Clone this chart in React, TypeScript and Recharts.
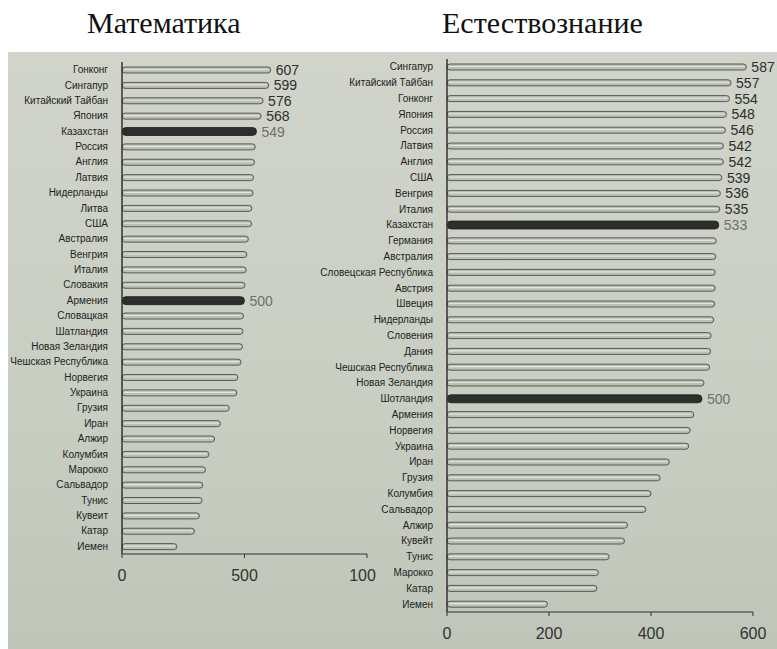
import React from "react";
import { BarChart, Bar, XAxis, YAxis, LabelList } from "recharts";

// Математика (TIMSS, 4 класс)
const mathCountries = [
  "Гонконг", "Сингапур", "Китайский Тайбан", "Япония", "Казахстан", "Россия",
  "Англия", "Латвия", "Нидерланды", "Литва", "США", "Австралия", "Венгрия",
  "Италия", "Словакия", "Армения", "Словацкая", "Шатландия", "Новая Зеландия",
  "Чешская Республика", "Норвегия", "Украина", "Грузия", "Иран", "Алжир",
  "Колумбия", "Марокко", "Сальвадор", "Тунис", "Кувеит", "Катар", "Иемен",
];
const mathScores = [
  607, 599, 576, 568, 549, 544, 541, 537, 535, 530, 529, 516, 510, 507, 502,
  500, 496, 494, 492, 486, 473, 469, 438, 402, 378, 355, 341, 330, 327, 316,
  296, 224,
];
const mathHighlight = ["Казахстан", "Армения"];
const mathLabeled = ["Гонконг", "Сингапур", "Китайский Тайбан", "Япония", "Казахстан", "Армения"];
const mathTicks = [0, 500, 1000];

// Естествознание
const sciCountries = [
  "Сингапур", "Китайский Тайбан", "Гонконг", "Япония", "Россия", "Латвия",
  "Англия", "США", "Венгрия", "Италия", "Казахстан", "Германия", "Австралия",
  "Словецская Республика", "Австрия", "Швеция", "Нидерланды", "Словения",
  "Дания", "Чешская Республика", "Новая Зеландия", "Шотландия", "Армения",
  "Норвегия", "Украина", "Иран", "Грузия", "Колумбия", "Сальвадор", "Алжир",
  "Кувейт", "Тунис", "Марокко", "Катар", "Иемен",
];
const sciScores = [
  587, 557, 554, 548, 546, 542, 542, 539, 536, 535, 533, 528, 527, 526, 526,
  525, 523, 518, 517, 515, 504, 500, 484, 477, 474, 436, 418, 400, 390, 354,
  348, 318, 297, 294, 197,
];
const sciHighlight = ["Казахстан", "Шотландия"];
const sciLabeled = [
  "Сингапур", "Китайский Тайбан", "Гонконг", "Япония", "Россия", "Латвия",
  "Англия", "США", "Венгрия", "Италия", "Казахстан", "Шотландия",
];
const sciTicks = [0, 200, 400, 600];

type Row = { name: string; score: number; hl: boolean; lab: boolean };

function buildRows(names: string[], scores: number[], hl: string[], lab: string[]): Row[] {
  return names.map((n, i) => ({
    name: n,
    score: scores[i],
    hl: hl.includes(n),
    lab: lab.includes(n),
  }));
}

const SANS = "'Liberation Sans', Arial, sans-serif";

function BarShape(props: any) {
  const { x, y, width, height, payload } = props;
  const h = payload.hl ? 8 : 6;
  const cy = y + height / 2;
  if (payload.hl) {
    return (
      <rect x={x} y={cy - h / 2} width={width} height={h} rx={h / 2} fill="#2e2f2c" stroke="#1e1e1e" strokeWidth={0.8} />
    );
  }
  return (
    <g>
      <rect x={x} y={cy - h / 2} width={width} height={h} rx={h / 2} fill="#bcbfb8" stroke="#585a56" strokeWidth={1} />
      <line x1={x + 2} x2={x + width - 2} y1={cy - 0.5} y2={cy - 0.5} stroke="#e2e4de" strokeWidth={1.2} />
    </g>
  );
}

// single-line category label (recharts would wrap long names)
function CountryTick(props: any) {
  const { x, y, payload } = props;
  return (
    <text x={x} y={y} dy={3.5} textAnchor="end" fontSize={10} fontFamily={SANS} fill="#222">
      {payload.value}
    </text>
  );
}

function makeLabel(rows: Row[]) {
  return (props: any) => {
    const { x, y, width, height, index, value } = props;
    const r = rows[index];
    if (!r || !r.lab) return null;
    const grey = r.hl || r.score === 500;
    return (
      <text
        x={x + width + 5}
        y={y + height / 2}
        dy={5}
        fontSize={14}
        fontFamily={SANS}
        fill={grey ? "#6f716c" : "#2e2e2e"}
      >
        {value}
      </text>
    );
  };
}

function ScoreChart({
  rows, width, height, margin, yWidth, xHeight, domain, ticks, tickDy,
}: {
  rows: Row[]; width: number; height: number;
  margin: { top: number; right: number; left: number; bottom: number };
  yWidth: number; xHeight: number; domain: [number, number]; ticks: number[]; tickDy: number;
}) {
  return (
    <BarChart layout="vertical" width={width} height={height} data={rows} margin={margin} barCategoryGap={0}>
      <XAxis
        type="number"
        domain={domain}
        ticks={ticks}
        height={xHeight}
        axisLine={{ stroke: "#333" }}
        tickLine={{ stroke: "#333" }}
        tickSize={4}
        tick={{ fontSize: 16, fill: "#333", fontFamily: SANS, dy: tickDy }}
        interval={0}
      />
      <YAxis
        type="category"
        dataKey="name"
        width={yWidth}
        axisLine={{ stroke: "#333", strokeWidth: 1.5 }}
        tickLine={false}
        tickMargin={8}
        interval={0}
        tick={<CountryTick />}
      />
      <Bar dataKey="score" barSize={6} shape={<BarShape />} isAnimationActive={false}>
        <LabelList dataKey="score" content={makeLabel(rows)} />
      </Bar>
    </BarChart>
  );
}

export default function App() {
  const mathRows = buildRows(mathCountries, mathScores, mathHighlight, mathLabeled);
  const sciRows = buildRows(sciCountries, sciScores, sciHighlight, sciLabeled);
  const titleStyle: React.CSSProperties = {
    position: "absolute",
    top: 6,
    fontFamily: "'Liberation Serif', 'Times New Roman', serif",
    fontSize: 30,
    color: "#111",
    whiteSpace: "nowrap",
  };
  return (
    <div style={{ position: "absolute", left: 0, top: 0, width: 777, height: 649, background: "#fff", overflow: "hidden" }}>
      <div
        style={{
          position: "absolute", left: 8, top: 52, width: 769, height: 597,
          background: "linear-gradient(180deg, #d0d4ca 0%, #c9cec3 60%, #bfc5b9 100%)",
        }}
      />
      <div style={{ ...titleStyle, left: 87 }}>Математика</div>
      <div style={{ ...titleStyle, left: 442 }}>Естествознание</div>

      <div style={{ position: "absolute", left: 0, top: 0, width: 376, height: 600, overflow: "hidden" }}>
        <ScoreChart
          rows={mathRows}
          width={390}
          height={600}
          margin={{ top: 62, right: 23, left: 0, bottom: 0 }}
          yWidth={122}
          xHeight={46}
          domain={[0, 1000]}
          ticks={mathTicks}
          tickDy={10}
        />
      </div>
      <div style={{ position: "absolute", left: 300, top: 0 }}>
        <ScoreChart
          rows={sciRows}
          width={477}
          height={649}
          margin={{ top: 59, right: 24, left: 0, bottom: 0 }}
          yWidth={147}
          xHeight={37}
          domain={[0, 600]}
          ticks={sciTicks}
          tickDy={10}
        />
      </div>
    </div>
  );
}
